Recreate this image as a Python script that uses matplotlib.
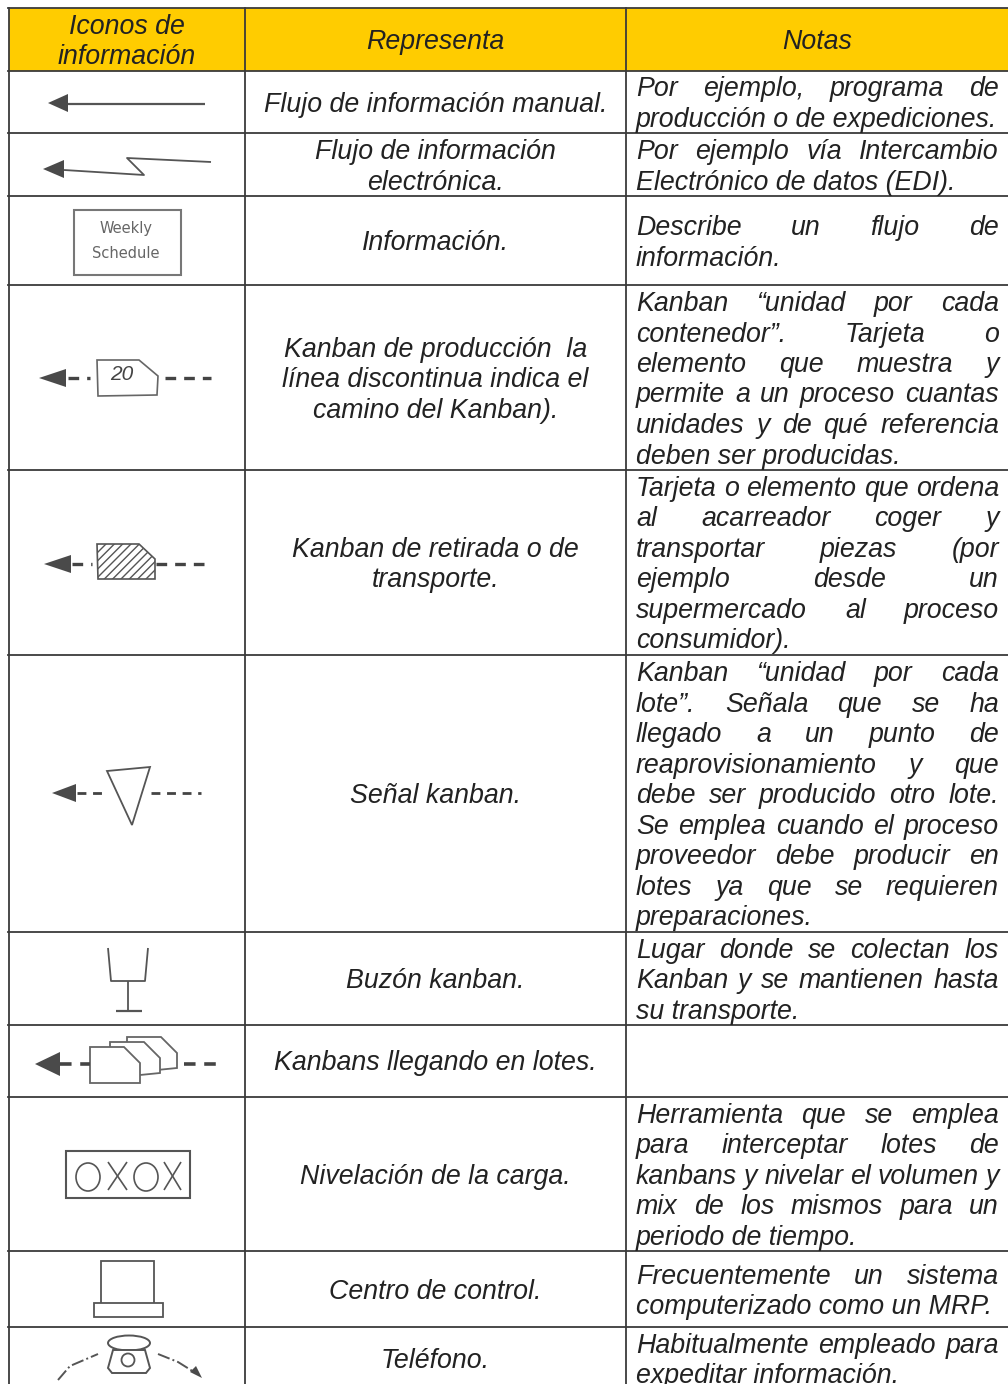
import matplotlib
matplotlib.use("Agg")
import matplotlib.pyplot as plt
from matplotlib.patches import Polygon, Rectangle, Ellipse
import numpy as np

# table layout
col_edges = [9, 245, 626, 1008]
row_edges = [8, 70.5, 133, 195.5, 285, 469.5, 654.5, 932, 1024.5, 1096.5, 1251, 1327, 1400]

headers = [["Iconos de", "información"], ["Representa"], ["Notas"]]

representa = [
    ["Flujo de información manual."],
    ["Flujo de información", "electrónica."],
    ["Información."],
    ["Kanban de producción  la", "línea discontinua indica el", "camino del Kanban)."],
    ["Kanban de retirada o de", "transporte."],
    ["Señal kanban."],
    ["Buzón kanban."],
    ["Kanbans llegando en lotes."],
    ["Nivelación de la carga."],
    ["Centro de control."],
    ["Teléfono."],
]

notas = [
    ["Por ejemplo, programa de", "producción o de expediciones."],
    ["Por ejemplo vía Intercambio", "Electrónico de datos (EDI)."],
    ["Describe un flujo de", "información."],
    ["Kanban “unidad por cada", "contenedor”. Tarjeta o", "elemento que muestra y",
     "permite a un proceso cuantas", "unidades y de qué referencia", "deben ser producidas."],
    ["Tarjeta o elemento que ordena", "al acarreador coger y", "transportar piezas (por",
     "ejemplo desde un", "supermercado al proceso", "consumidor)."],
    ["Kanban “unidad por cada", "lote”. Señala que se ha", "llegado a un punto de",
     "reaprovisionamiento y que", "debe ser producido otro lote.", "Se emplea cuando el proceso",
     "proveedor debe producir en", "lotes ya que se requieren", "preparaciones."],
    ["Lugar donde se colectan los", "Kanban y se mantienen hasta", "su transporte."],
    [],
    ["Herramienta que se emplea", "para interceptar lotes de", "kanbans y nivelar el volumen y",
     "mix de los mismos para un", "periodo de tiempo."],
    ["Frecuentemente un sistema", "computerizado como un MRP."],
    ["Habitualmente empleado para", "expeditar información."],
]

header_color = "#FFCC00"
line_color = "#3a3a3a"
icon_color = "#555555"
text_color = "#222222"
font = dict(family="Liberation Sans", style="italic", fontsize=19.3, color=text_color)
line_h = 30.5

fig = plt.figure(figsize=(10.08, 13.84), dpi=100)
ax = fig.add_axes([0, 0, 1, 1])
ax.set_xlim(0, 1008)
ax.set_ylim(1384, 0)
ax.axis("off")


def line(xs, ys, lw=1.2, ls="-", color=icon_color):
    ax.plot(xs, ys, color=color, lw=lw, ls=ls, solid_capstyle="butt", dash_capstyle="butt")


def arrow_head(x_tip, x_base, y, half=9):
    ax.add_patch(Polygon([[x_tip, y], [x_base, y - half], [x_base, y + half]], color="#4a4a4a", lw=0))


def dashes(x0, x1, y, lw=2.4):
    ax.plot([x0, x1], [y, y], color="#444444", lw=lw, ls=(0, (3.2, 2.4)), dash_capstyle="butt")


def centered(lines, xc, yc):
    y0 = yc - line_h * (len(lines) - 1) / 2
    for i, s in enumerate(lines):
        ax.text(xc, y0 + i * line_h, s, ha="center", va="center_baseline", **font)


def justified(lines, yc, x0=636, x1=999):
    y0 = yc - line_h * (len(lines) - 1) / 2
    r = fig.canvas.get_renderer()
    for i, s in enumerate(lines):
        y = y0 + i * line_h
        if i == len(lines) - 1:
            ax.text(x0, y, s, ha="left", va="center_baseline", **font)
            continue
        words = s.split()
        ts = [ax.text(x0, y, w, ha="left", va="center_baseline", **font) for w in words]
        widths = [t.get_window_extent(r).width for t in ts]
        gap = (x1 - x0 - sum(widths)) / (len(words) - 1)
        x = x0
        for t, w in zip(ts, widths):
            t.set_x(x)
            x += w + gap


# header band, grid
ax.add_patch(Rectangle((col_edges[0], row_edges[0]), col_edges[3] - col_edges[0],
                       row_edges[1] - row_edges[0], color=header_color, lw=0))
for y in row_edges[:-1]:
    ax.plot([col_edges[0] - 1, col_edges[3]], [y, y], color=line_color, lw=1.3)
for x in col_edges[:-1]:
    ax.plot([x, x], [row_edges[0], 1384], color=line_color, lw=1.3)

# text
for j, h in enumerate(headers):
    centered(h, (col_edges[j] + col_edges[j + 1]) / 2, (row_edges[0] + row_edges[1]) / 2)
for i in range(len(representa)):
    yc = (row_edges[i + 1] + row_edges[i + 2]) / 2
    if i == len(representa) - 1:
        yc = 1358
    centered(representa[i], 435.5, yc)
    if notas[i]:
        justified(notas[i], yc)

# manual flow
arrow_head(48, 68, 103)
line([68, 205], [103.5, 103.5], lw=1.6)

# electronic flow
arrow_head(43, 64, 169)
line([64, 144, 127, 211], [170, 175, 158, 162], lw=1.3)

# weekly schedule
ax.add_patch(Rectangle((74, 210), 107, 65, fc="white", ec="#777777", lw=1.5))
ax.text(126, 228.5, "Weekly", ha="center", va="center", family="DejaVu Sans", fontsize=10.5, color="#666666")
ax.text(126, 254, "Schedule", ha="center", va="center", family="DejaVu Sans", fontsize=10.5, color="#666666")

# production kanban
arrow_head(39, 66, 378)
dashes(68, 90, 378)
dashes(165, 211, 378)
ax.add_patch(Polygon([[97, 360], [139, 360], [158, 376], [157, 395], [98, 396]], fc="white", ec="#666666", lw=1.2))
ax.text(122, 375, "20", ha="center", va="center", family="Liberation Sans", style="italic", fontsize=15, color="#444444")

# withdrawal kanban
arrow_head(44, 71, 564)
dashes(72, 92, 564)
dashes(156, 211, 564)
ax.add_patch(Polygon([[97, 544], [139, 544], [155, 559], [155, 579], [98, 579]], fc="white", ec="#555555", lw=1.2,
                     hatch="////"))

# signal kanban
arrow_head(52, 76, 793)
dashes(77, 108, 793, lw=2)
dashes(151, 201, 793, lw=2)
ax.add_patch(Polygon([[107, 771], [150, 767], [132, 825]], fc="white", ec="#555555", lw=1.3))

# kanban post
line([108, 111, 145, 148], [948, 981, 981, 948], lw=1.3)
line([128, 128], [981, 1011], lw=1.3)
line([116, 142], [1011, 1011], lw=1.6)

# kanbans in batches
arrow_head(35, 60, 1064, half=12)
dashes(60, 90, 1064, lw=2.6)
dashes(184, 217, 1064, lw=2.6)
for off_x, off_y in [(37, -10), (20, -5), (0, 0)]:
    ax.add_patch(Polygon([[90 + off_x, 1047 + off_y], [124 + off_x, 1047 + off_y], [140 + off_x, 1063 + off_y],
                          [140 + off_x, 1083 + off_y - (off_y != 0) * 5], [90 + off_x, 1083 + off_y]],
                         fc="white", ec="#666666", lw=1.3))

# load levelling
ax.add_patch(Rectangle((66, 1151), 124, 47, fc="white", ec="#555555", lw=1.5))
for xc in [88, 146]:
    ax.add_patch(Ellipse((xc, 1177), 24, 28, fc="none", ec="#555555", lw=1.2))
for xa, xb in [(108, 127), (164, 181)]:
    line([xa, xb], [1162, 1190], lw=1.2)
    line([xa, xb], [1190, 1162], lw=1.2)

# control centre
ax.add_patch(Rectangle((101, 1261), 53, 47, fc="white", ec="#555555", lw=1.3))
ax.add_patch(Rectangle((93.5, 1303), 69, 14, fc="white", ec="#555555", lw=1.3))

# telephone
ax.plot([58, 70, 98], [1380, 1366, 1354], color="#555555", lw=1.4, ls="-.")
ax.plot([158, 178, 194], [1354, 1362, 1372], color="#555555", lw=1.4, ls="-.")
ax.add_patch(Polygon([[202, 1378], [190, 1372], [196, 1366]], color="#4a4a4a", lw=0))
ax.add_patch(Ellipse((129, 1343), 42, 15, fc="none", ec="#555555", lw=1.4))
ax.add_patch(Polygon([[113, 1350], [145, 1350], [150, 1368], [146, 1373], [112, 1373], [108, 1368]],
                     fc="white", ec="#555555", lw=1.4))
ax.add_patch(Ellipse((128, 1360), 13, 13, fc="none", ec="#555555", lw=1.3))

fig.savefig("out.png", dpi=100)
